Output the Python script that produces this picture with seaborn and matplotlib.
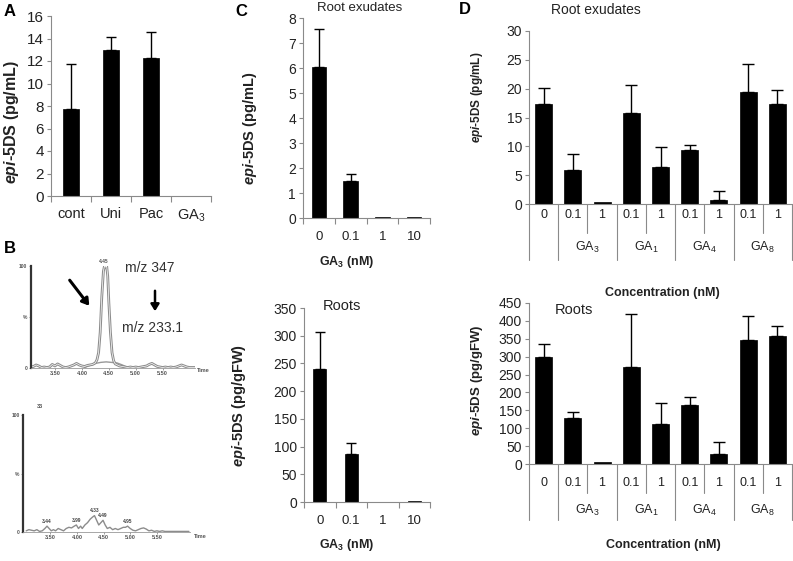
import numpy as np
import pandas as pd
import matplotlib
matplotlib.use("Agg")
import matplotlib.pyplot as plt
import seaborn as sns

# ---------------- data ----------------
A_cats = ["cont", "Uni", "Pac", "GA$_3$"]
A_vals = [7.7, 13.0, 12.3, 0.0]
A_err = [4.0, 1.1, 2.3, 0.0]

C_conc = ["0", "0.1", "1", "10"]
C_exu_vals = [6.05, 1.5, 0.03, 0.03]
C_exu_err = [1.5, 0.27, 0.0, 0.0]
C_root_vals = [240, 86, 0.5, 2.0]
C_root_err = [67, 21, 0.0, 0.0]

D_ids = ["0", "GA3-0.1", "GA3-1", "GA1-0.1", "GA1-1", "GA4-0.1", "GA4-1", "GA8-0.1", "GA8-1"]
D_conc = ["0", "0.1", "1", "0.1", "1", "0.1", "1", "0.1", "1"]
D_groups = ["GA$_3$", "GA$_1$", "GA$_4$", "GA$_8$"]
D_exu_vals = [17.4, 5.9, 0.3, 15.7, 6.35, 9.35, 0.7, 19.45, 17.4]
D_exu_err = [2.8, 2.75, 0.0, 4.9, 3.55, 0.95, 1.6, 4.9, 2.45]
D_root_vals = [300, 128, 5, 272, 113, 166, 29, 347, 359]
D_root_err = [35, 17, 0, 148, 57, 20, 32, 66, 28]

# chromatograms (panel B)
B1_time = [3.05, 3.10, 3.15, 3.20, 3.25, 3.30, 3.35, 3.40, 3.45, 3.50, 3.55, 3.60, 3.65, 3.70,
           3.75, 3.80, 3.85, 3.90, 3.95, 4.00, 4.05, 4.10, 4.15, 4.20, 4.25, 4.28, 4.31, 4.34,
           4.37, 4.40, 4.42, 4.44, 4.46, 4.48, 4.50, 4.53, 4.56, 4.59, 4.62, 4.66, 4.70, 4.75,
           4.80, 4.85, 4.90, 4.95, 5.00, 5.05, 5.10, 5.15, 5.20, 5.25, 5.30, 5.35, 5.40, 5.45,
           5.50, 5.55, 5.60, 5.65, 5.70, 5.75, 5.80, 5.85, 5.90, 5.95, 6.00, 6.05, 6.10]
B1_int = [1, 1.5, 3, 2, 0.5, 1, 0.5, 1, 3.5, 2, 4, 2.5, 1, 0.5,
          1, 2, 3, 4.5, 3, 2, 1.5, 2.5, 3, 3.5, 5, 8, 15, 35,
          70, 95, 100, 99, 100, 90, 65, 35, 15, 7, 4, 3, 2, 1.5,
          1, 0.5, 1, 0.5, 1, 0.5, 1, 1.5, 2, 3.5, 4.5, 3, 1.5, 1,
          0.5, 1, 0.5, 1, 0.5, 1, 2, 3, 2, 1, 0.5, 0.5, 0.5]
B1b_time = [4.05, 4.15, 4.25, 4.35, 4.45, 4.55, 4.65, 4.75, 4.85]
B1b_int = [0.5, 2.5, 4.5, 5.5, 6, 5.5, 5, 3, 0.5]

B2_time = [3.05, 3.10, 3.15, 3.20, 3.25, 3.30, 3.35, 3.40, 3.44, 3.48, 3.52, 3.56, 3.60, 3.65,
           3.70, 3.75, 3.80, 3.85, 3.90, 3.95, 3.99, 4.03, 4.07, 4.10, 4.15, 4.20, 4.25, 4.30,
           4.33, 4.37, 4.41, 4.45, 4.49, 4.53, 4.57, 4.62, 4.67, 4.72, 4.77, 4.82, 4.87, 4.91,
           4.95, 5.00, 5.05, 5.10, 5.15, 5.20, 5.25, 5.30, 5.35, 5.40, 5.45, 5.50, 5.55, 5.60,
           5.65, 5.70, 5.80, 5.90, 6.00, 6.10]
B2_int = [1, 2, 1.5, 1, 2, 0.5, 1, 3, 5, 3, 1, 2, 1, 3,
          2, 1, 3, 4, 3.5, 5, 6, 3, 5, 3, 6, 8, 11, 13,
          14, 10, 6, 8, 10, 6, 3, 4, 2, 3, 2, 3, 4, 4,
          5, 3, 1.5, 1, 2, 3, 3.5, 2.5, 1, 1.5, 0.5, 1, 0.5, 1,
          0.5, 0.5, 0.5, 0.5, 0.5, 0.5]
B2_peaks = [3.44, 3.99, 4.33, 4.49, 4.95]
B2_peak_int = [5, 6, 14, 10, 5]

# ---------------- style ----------------
sns.set_theme(style="ticks")
plt.rcParams['font.family'] = ['Liberation Sans', 'DejaVu Sans']
plt.rcParams['mathtext.fontset'] = 'custom'
plt.rcParams['mathtext.rm'] = 'Liberation Sans'
plt.rcParams['mathtext.it'] = 'Liberation Sans:italic'
plt.rcParams['mathtext.bf'] = 'Liberation Sans:bold'
try:
    plt.rcParams['mathtext.bfit'] = 'Liberation Sans:italic:bold'
    EPI = r"$\mathbfit{epi}$"
except Exception:
    EPI = r"$\mathit{epi}$"

W, H = 793, 561
fig = plt.figure(figsize=(W / 100, H / 100), dpi=100)
GRAY = "#8a8a8a"
TXT = "#222222"


def R(l, t, r, b):
    return [l / W, 1 - b / H, (r - l) / W, (b - t) / H]


def T(x, y, s, **kw):
    kw.setdefault("ha", "center")
    kw.setdefault("va", "center")
    kw.setdefault("color", TXT)
    return fig.text(x / W, 1 - y / H, s, **kw)


def bar_panel(rect, ids, vals, errs, width, ylim, yticks, ytfs, capsize):
    ax = fig.add_axes(rect)
    df = pd.DataFrame({"id": ids, "v": vals})
    sns.barplot(data=df, x="id", y="v", order=ids, color="black", saturation=1,
                width=width, errorbar=None, ax=ax, edgecolor="black", linewidth=0.5)
    x = np.arange(len(ids))
    v = np.asarray(vals, float)
    e = np.asarray(errs, float)
    m = e > 0
    ax.errorbar(x[m], v[m], yerr=[np.zeros(m.sum()), e[m]], fmt="none", ecolor="black",
                elinewidth=1.0, capsize=capsize, capthick=1.0)
    ax.set_xlim(-0.5, len(ids) - 0.5)
    ax.set_ylim(*ylim)
    ax.set_yticks(yticks)
    ax.set_xlabel("")
    ax.set_ylabel("")
    for s in ["top", "right"]:
        ax.spines[s].set_visible(False)
    for s in ["left", "bottom"]:
        ax.spines[s].set_color(GRAY)
        ax.spines[s].set_linewidth(0.8)
    ax.tick_params(axis="y", direction="out", length=3, width=0.8, color=GRAY,
                   labelsize=ytfs, labelcolor=TXT, pad=2)
    ax.set_facecolor("none")
    return ax


# ---------------- panel A ----------------
axA = bar_panel(R(51, 16, 211, 196), A_cats, A_vals, A_err, 0.42, (0, 16),
                np.arange(0, 17, 2), 11, 3.5)
axA.set_xticks(range(4))
axA.set_xticklabels(A_cats, fontsize=10.5, color=TXT)
axA.set_xticks(np.arange(-0.5, 4, 1), minor=True)
axA.tick_params(axis="x", which="major", length=0, pad=8)
axA.tick_params(axis="x", which="minor", length=4, width=0.8, color=GRAY, direction="out")
T(12, 122, EPI + "-5DS (pg/mL)", rotation=90, fontsize=11.5, fontweight="bold")
T(10, 12, "A", fontsize=12, fontweight="bold", color="black")

# ---------------- panel C ----------------
axC1 = bar_panel(R(303, 18, 430, 218), C_conc, C_exu_vals, C_exu_err, 0.45, (0, 8),
                 np.arange(0, 9, 1), 10, 3.5)
axC2 = bar_panel(R(304, 308, 430, 502), C_conc, C_root_vals, C_root_err, 0.42, (0, 350),
                 np.arange(0, 351, 50), 10, 3.5)
for ax in (axC1, axC2):
    ax.set_xticks(range(4))
    ax.set_xticklabels(C_conc, fontsize=9.5, color=TXT)
    ax.set_xticks(np.arange(-0.5, 4, 1), minor=True)
    ax.tick_params(axis="x", which="major", length=0, pad=9)
    ax.tick_params(axis="x", which="minor", length=4, width=0.8, color=GRAY, direction="out")
T(360, 8, "Root exudates", fontsize=9.5)
T(342, 306, "Roots", fontsize=10.5)
T(347, 262, r"GA$_{\mathbf{3}}$ (nM)", fontsize=9, fontweight="bold")
T(347, 545, r"GA$_{\mathbf{3}}$ (nM)", fontsize=9, fontweight="bold")
T(250, 128, EPI + "-5DS (pg/mL)", rotation=90, fontsize=10.5, fontweight="bold")
T(239, 405, EPI + "-5DS (pg/gFW)", rotation=90, fontsize=10.5, fontweight="bold")
T(241, 11, "C", fontsize=12, fontweight="bold", color="black")

# ---------------- panel D ----------------
axD1 = bar_panel(R(529, 31, 792, 204), D_ids, D_exu_vals, D_exu_err, 0.58, (0, 30),
                 np.arange(0, 31, 5), 10, 4.5)
axD2 = bar_panel(R(529, 303, 792, 464), D_ids, D_root_vals, D_root_err, 0.58, (0, 450),
                 np.arange(0, 451, 50), 10, 4.5)
for ax, full, short, grp, pad in ((axD1, 56, 29, 43, 3.5), (axD2, 56, 29, 46, 9)):
    hpx = ax.get_position().height * H
    tr = ax.get_xaxis_transform()
    ax.set_xticks(range(len(D_ids)))
    ax.set_xticklabels(D_conc, fontsize=9, color=TXT)
    ax.tick_params(axis="x", length=0, pad=pad)
    for b in [-0.5, 0.5, 2.5, 4.5, 6.5, 8.5]:
        ax.plot([b, b], [0, -full / hpx], transform=tr, clip_on=False, color=GRAY, lw=0.8)
    for b in [1.5, 3.5, 5.5, 7.5]:
        ax.plot([b, b], [0, -short / hpx], transform=tr, clip_on=False, color=GRAY, lw=0.8)
    for i, g in enumerate(D_groups):
        ax.text(1.5 + 2 * i, -grp / hpx, g, transform=tr, ha="center", va="center",
                fontsize=9, color=TXT)
T(596, 10, "Root exudates", fontsize=10)
T(574, 310, "Roots", fontsize=10.5)
T(662, 293, "Concentration (nM)", fontsize=9, fontweight="bold")
T(663, 545, "Concentration (nM)", fontsize=9, fontweight="bold")
T(477, 97, EPI + "-5DS (pg/mL)", rotation=90, fontsize=8.5, fontweight="bold")
T(477, 380, EPI + "-5DS (pg/gFW)", rotation=90, fontsize=9.5, fontweight="bold")
T(465, 10, "D", fontsize=12, fontweight="bold", color="black")


# ---------------- panel B ----------------
def chrom_axes(rect, xlim):
    ax = fig.add_axes(rect)
    ax.set_xlim(*xlim)
    ax.set_ylim(0, 100)
    ax.set_facecolor("none")
    for s in ["top", "right"]:
        ax.spines[s].set_visible(False)
    ax.spines["left"].set_color("#333333")
    ax.spines["left"].set_linewidth(1.6)
    ax.spines["bottom"].set_color("#999999")
    ax.spines["bottom"].set_linewidth(0.6)
    ax.set_xticks([3.5, 4.0, 4.5, 5.0, 5.5])
    ax.set_xticklabels(["3.50", "4.00", "4.50", "5.00", "5.50"], fontsize=4,
                       fontweight="bold", color="#555555")
    ax.set_yticks([0, 50, 100])
    ax.set_yticklabels(["0", "%", "100"], fontsize=3.5, fontweight="bold", color="#555555")
    ax.tick_params(axis="both", length=1.5, width=0.5, color="#777777", pad=1)
    ax.set_xlabel("")
    ax.set_ylabel("")
    return ax


axB1 = chrom_axes(R(30.7, 266, 195, 368), (3.05, 6.1))
sns.lineplot(x=B1b_time, y=B1b_int, ax=axB1, color="#999999", lw=1.0)
sns.lineplot(x=B1_time, y=B1_int, ax=axB1, color="#8c8c8c", lw=2.0)
sns.lineplot(x=B1_time, y=B1_int, ax=axB1, color="white", lw=0.5)
axB1.set_xlabel("")
axB1.set_ylabel("")
axB1.text(4.40, 102, "4.45", fontsize=3.5, fontweight="bold", color="#555555",
          ha="center", va="bottom", clip_on=False)
T(203, 371, "Time", fontsize=4, fontweight="bold", color="#555555")
T(10, 248, "B", fontsize=12, fontweight="bold", color="black")
T(150, 268, "m/z 347", fontsize=10, color="#333333")
T(153, 328, "m/z 233.1", fontsize=10, color="#333333")
fig.patches.append(matplotlib.patches.FancyArrowPatch(
    (68 / W, 1 - 278 / H), (91 / W, 1 - 308 / H), transform=fig.transFigure,
    arrowstyle="-|>,head_length=4,head_width=2.5", lw=2.2, color="black"))
fig.patches.append(matplotlib.patches.FancyArrowPatch(
    (155 / W, 1 - 288 / H), (155 / W, 1 - 314 / H), transform=fig.transFigure,
    arrowstyle="-|>,head_length=4,head_width=2.5", lw=1.8, color="black"))

axB2 = chrom_axes(R(23, 415, 190, 532), (2.99, 6.12))
sns.lineplot(x=B2_time, y=B2_int, ax=axB2, color="#8c8c8c", lw=1.0)
axB2.set_xlabel("")
axB2.set_ylabel("")
for t, v in zip(B2_peaks, B2_peak_int):
    axB2.text(t, v + 2, f"{t:.2f}", fontsize=3.5, fontweight="bold", color="#444444",
              ha="center", va="bottom")
T(200, 536, "Time", fontsize=4, fontweight="bold", color="#555555")
T(40, 407, "33", fontsize=4, fontweight="bold", color="#555555")

fig.savefig("out.png", dpi=100)
